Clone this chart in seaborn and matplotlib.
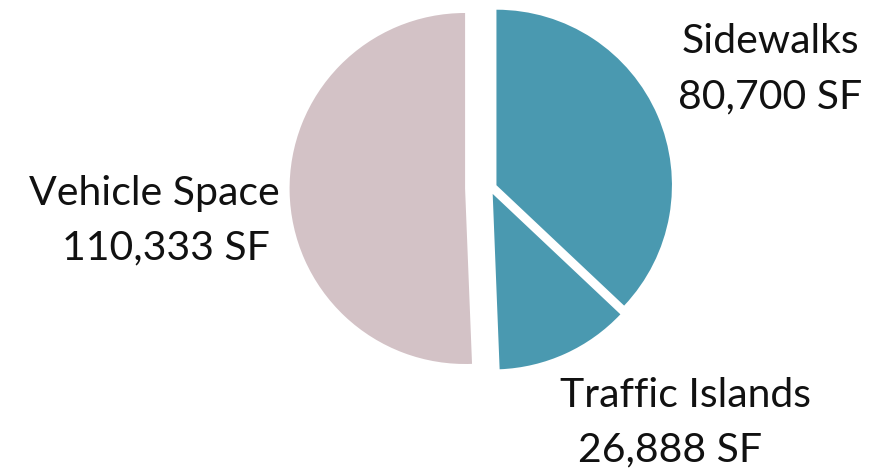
import matplotlib
matplotlib.use("Agg")
import matplotlib.pyplot as plt
import seaborn as sns

# data
categories = ["Sidewalks", "Traffic Islands", "Vehicle Space"]
areas = [80700, 26888, 110333]
colors = ["#4a99b0", "#4a99b0", "#d3c2c6"]
explode = [0.04, 0.037, 0.142]

sns.set_theme(style="white")
plt.rcParams["font.family"] = ["Lato", "DejaVu Sans"]

W, H = 882, 471
fig = plt.figure(figsize=(W / 100, H / 100), dpi=100)
ax = fig.add_axes([0, 0, 1, 1])

ax.pie(areas, colors=colors, explode=explode, startangle=90,
       counterclock=False, radius=1,
       wedgeprops=dict(linewidth=0))

# pie centre (490, 188) px, radius 175.5 px
R = 175.5
cx, cy = 490, 188
ax.set_xlim(-cx / R, (W - cx) / R)
ax.set_ylim(-(H - cy) / R, cy / R)
ax.set_aspect("equal", adjustable="box")
ax.axis("off")

# label placement (pixel centres, baselines)
label_pos = {
    "Sidewalks": [(770, 53), (770, 108)],
    "Traffic Islands": [(686, 407), (670, 461)],
    "Vehicle Space": [(154, 205), (166, 259)],
}
for name, val in zip(categories, areas):
    lines = [name, f"{val:,} SF"]
    for txt, (px, py) in zip(lines, label_pos[name]):
        fig.text(px / W, 1 - py / H, txt, ha="center", va="baseline",
                 fontsize=29.5, color="#111111")

fig.savefig("out.png", dpi=100)
